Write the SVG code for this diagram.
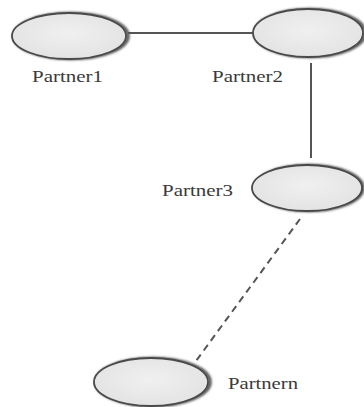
<svg xmlns="http://www.w3.org/2000/svg" width="364" height="407" viewBox="0 0 364 407">
<defs>
<radialGradient id="fill" cx="50%" cy="45%" r="60%">
<stop offset="0" stop-color="#f0f0f0"/>
<stop offset="1" stop-color="#e2e2e2"/>
</radialGradient>
<filter id="blur" x="-20%" y="-30%" width="140%" height="160%"><feGaussianBlur stdDeviation="1.2"/></filter>
</defs>
<style>
.shadow{fill:none;stroke:#555;stroke-width:3.5;filter:url(#blur)}
.node{fill:url(#fill);stroke:#4a4a4a;stroke-width:1.8}
.lbl{font-family:"Liberation Serif","Times New Roman",serif;font-size:17px;fill:#3a3a3a}
.conn{stroke:#555;stroke-width:2;fill:none}
</style>
<rect width="364" height="407" fill="#fff"/>
<g id="connectors">
<line class="conn" x1="128" y1="33" x2="253" y2="33"/>
<line class="conn" x1="311" y1="63" x2="311" y2="158"/>
<line class="conn" x1="300" y1="219" x2="196" y2="361" stroke-dasharray="7,5"/>
</g>
<g id="partner1">
<ellipse class="shadow" cx="71" cy="36" rx="57" ry="22.5"/>
<ellipse class="node" cx="69" cy="36" rx="57" ry="23"/>
<text class="lbl" x="32" y="82" textLength="71" lengthAdjust="spacingAndGlyphs">Partner1</text>
</g>
<g id="partner2">
<ellipse class="shadow" cx="310" cy="33" rx="55" ry="23.5"/>
<ellipse class="node" cx="308" cy="33" rx="55" ry="24"/>
<text class="lbl" x="212" y="82" textLength="71" lengthAdjust="spacingAndGlyphs">Partner2</text>
</g>
<g id="partner3">
<ellipse class="shadow" cx="309" cy="188" rx="54" ry="22.5"/>
<ellipse class="node" cx="307" cy="188" rx="55" ry="23"/>
<text class="lbl" x="162" y="196" textLength="71" lengthAdjust="spacingAndGlyphs">Partner3</text>
</g>
<g id="partnern">
<ellipse class="shadow" cx="153" cy="382" rx="57" ry="23.5"/>
<ellipse class="node" cx="151" cy="382" rx="57" ry="24"/>
<text class="lbl" x="228" y="389" textLength="70" lengthAdjust="spacingAndGlyphs">Partnern</text>
</g>
</svg>
